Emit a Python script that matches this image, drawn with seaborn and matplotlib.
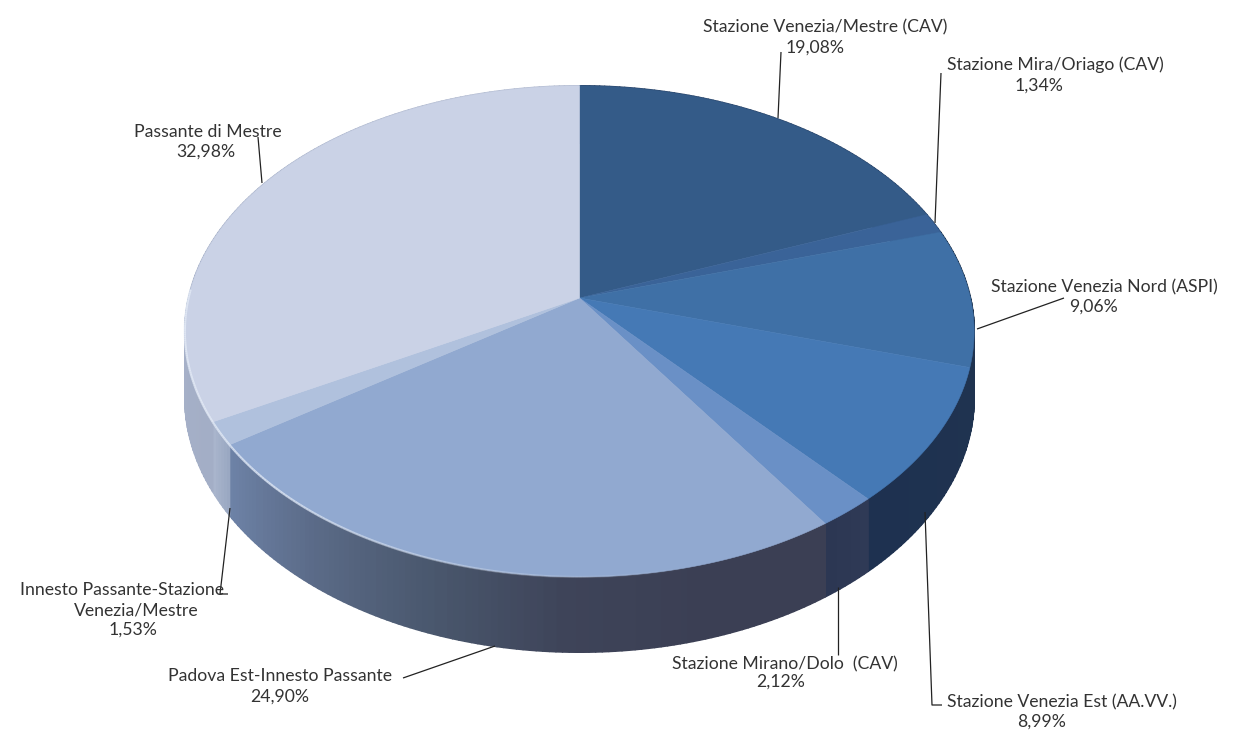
import numpy as np
import matplotlib
matplotlib.use("Agg")
import matplotlib.pyplot as plt
from matplotlib.collections import PolyCollection, LineCollection
from matplotlib.colors import to_rgb
import seaborn as sns

names = ["Stazione Venezia/Mestre (CAV)", "Stazione Mira/Oriago (CAV)",
         "Stazione Venezia Nord (ASPI)", "Stazione Venezia Est (AA.VV.)",
         "Stazione Mirano/Dolo  (CAV)", "Padova Est-Innesto Passante",
         "Innesto Passante-Stazione", "Passante di Mestre"]
extra_line = "Venezia/Mestre"
values = [19.08, 1.34, 9.06, 8.99, 2.12, 24.90, 1.53, 32.98]
value_labels = ["19,08%", "1,34%", "9,06%", "8,99%", "2,12%", "24,90%", "1,53%", "32,98%"]
top_colors = ["#345b88", "#3a6398", "#3f70a6", "#4579b5", "#6a90c6", "#91a9d0", "#b0c1dd", "#cad2e6"]
side_stops = [["#2a4468", "#2a4468"], ["#2a4468", "#2a4468"], ["#1d3048", "#1f3350"],
              ["#1f3350", "#1e3150"], ["#2f3a56", "#2c3753"],
              ["#3b3f54", "#3b3f54", "#3e4459", "#4a586e", "#5b6b88", "#6d82a6"],
              ["#9aa8c2", "#a9b5cc"], ["#a3aec6", "#b0b9cf"]]

sns.set_theme(style="white")
plt.rcParams["font.family"] = ["Lato", "DejaVu Sans"]
W, H = 1235, 731
fig = plt.figure(figsize=(W / 100, H / 100), dpi=100, facecolor="white")
ax = fig.add_axes([0, 0, 1, 1])

# perspective projection of the unit disc on the picture
CX, CY, A, B, K, DEPTH = 579.5, 298.0, 391.0, 241.0, 0.136, 65.0
def project(theta_deg, r=1.0, drop=0.0):
    t = np.radians(theta_deg)
    u, v = r * np.cos(t), -r * np.sin(t)
    w = 1 - K * v
    return CX + A * u / w, CY + (B * v + drop) / w

wedges, _ = ax.pie(values, startangle=90, counterclock=False, colors=top_colors)
spans = [(w.theta1, w.theta2) for w in wedges]
for w in wedges:
    w.remove()

# side wall
polys, cols = [], []
for (t1, t2), stops in zip(spans, side_stops):
    n = max(int((t2 - t1) * 1.2), 2)
    edges = np.linspace(t2, t1, n + 1)           # clockwise on the picture
    shades = sns.blend_palette(stops, n_colors=n)
    for a, b, c in zip(edges[:-1], edges[1:], shades):
        xa, ya = project(np.linspace(a, b, 6)); xd, yd = project(np.linspace(b, a, 6), drop=DEPTH)
        polys.append(np.c_[np.r_[xa, xd], np.r_[ya, yd]])
        cols.append(c)
ax.add_collection(PolyCollection(polys, facecolors=cols, edgecolors=cols, linewidths=1.2, zorder=1))

# top face
for (t1, t2), c in zip(spans, top_colors):
    th = np.linspace(t1, t2, 200)
    x, y = project(th)
    ax.fill(np.r_[CX, x], np.r_[CY, y], color=c, lw=0.4, zorder=2)

# pale rim highlight on the lower-left front edge
th = np.linspace(178, 285, 220)
x, y = project(th)
pts = np.c_[x, y]
segs = np.stack([pts[:-1], pts[1:]], axis=1)
alpha = np.clip((285 - th[:-1]) / 60, 0, 1) * 0.75
rgba = [(*to_rgb("#e6edf8"), a) for a in alpha]
ax.add_collection(LineCollection(segs, colors=rgba, linewidths=1.6, zorder=3))

# leader lines
leaders = [[(781, 52), (778, 118)],
           [(941, 73), (935, 223)],
           [(1064, 298), (977, 329)],
           [(925, 512), (932, 705), (942, 705)],
           [(838, 587), (838, 655)],
           [(403, 678), (495, 646)],
           [(230, 508), (220, 594), (228, 594)],
           [(258, 137), (262, 183)]]
for pts in leaders:
    xs, ys = zip(*pts)
    ax.plot(xs, ys, color="#222222", lw=0.9, zorder=4, solid_capstyle="butt")

# labels: name centre and value centre in picture coordinates
name_pos = [(825, 27), (1055, 65), (1104, 287), (1062, 702), (785, 664), (280, 676), (122, 590), (208, 132)]
value_pos = [(815, 48), (1039, 86), (1094, 307), (1042, 722), (781, 682), (280, 697), (133, 630), (206, 152)]
FS = 12.7
for nm, vl, np_, vp in zip(names, value_labels, name_pos, value_pos):
    ax.text(*np_, nm, ha="center", va="center", fontsize=FS, color="#333333", zorder=5)
    ax.text(*vp, vl, ha="center", va="center", fontsize=FS, color="#333333", zorder=5)
ax.text(136, 610, extra_line, ha="center", va="center", fontsize=FS, color="#333333", zorder=5)

ax.set_xlim(0, W)
ax.set_ylim(H, 0)
ax.set_aspect("auto")
ax.axis("off")
fig.savefig("out.png", dpi=100, facecolor="white")
